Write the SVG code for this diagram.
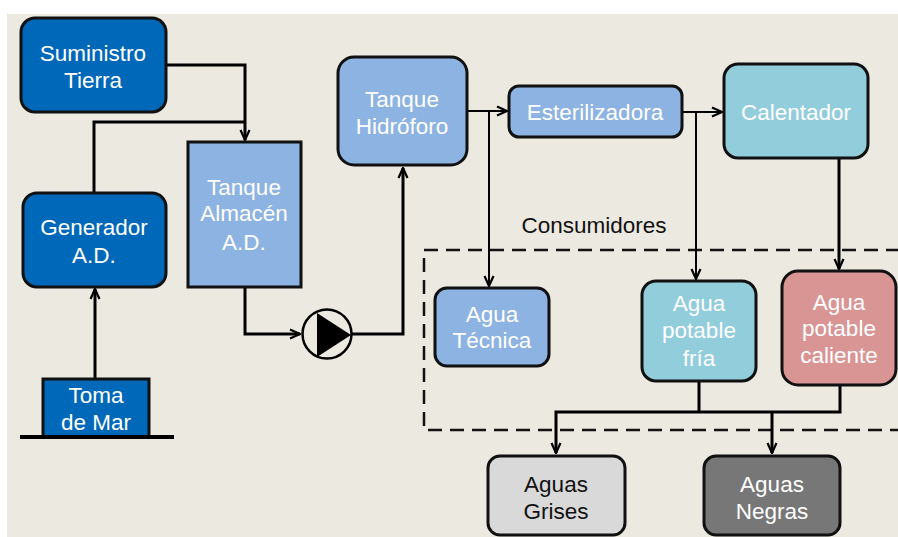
<svg xmlns="http://www.w3.org/2000/svg" width="898" height="537" viewBox="0 0 898 537">
<defs>
<marker id="arr2" viewBox="0 0 12 12" refX="11" refY="6" markerWidth="12" markerHeight="12" orient="auto" markerUnits="userSpaceOnUse">
<path d="M1,1.5 L11,6 L1,10.5" fill="none" stroke="#000" stroke-width="2.2"/>
</marker>
</defs>
<style>
.box{stroke:#111;stroke-width:3}
.t{font-family:"Liberation Sans",Arial,sans-serif;font-size:22.5px;text-anchor:middle;fill:#fff}
.k{fill:#111}
.c{fill:none;stroke:#000;stroke-width:3}
.cn{fill:none;stroke:#000;stroke-width:2}
.dark{fill:#0068B8}
.light{fill:#8DB3E2}
</style>
<rect x="0" y="0" width="898" height="537" fill="#fff"/>
<rect x="7" y="14" width="891" height="523" fill="#ECE9E0"/>

<g id="consumidores">
<rect x="424" y="250" width="480" height="180" fill="none" stroke="#111" stroke-width="2.5" stroke-dasharray="14,8"/>
<text class="t k" x="594" y="233">Consumidores</text>
</g>

<g id="connectors">
<polyline class="c" points="166,65 245,65 245,140" marker-end="url(#arr2)"/>
<polyline class="c" points="94,193 94,122 245,122"/>
<line class="c" x1="95" y1="379" x2="95" y2="289" marker-end="url(#arr2)"/>
<polyline class="c" points="245,287 245,334 300,334" marker-end="url(#arr2)"/>
<polyline class="c" points="352,334 403,334 403,168" marker-end="url(#arr2)"/>
<line class="cn" x1="467" y1="111" x2="507" y2="111" marker-end="url(#arr2)"/>
<line class="cn" x1="489" y1="111" x2="489" y2="286" marker-end="url(#arr2)"/>
<line class="cn" x1="682" y1="112" x2="722" y2="112" marker-end="url(#arr2)"/>
<line class="cn" x1="696" y1="112" x2="696" y2="279" marker-end="url(#arr2)"/>
<line class="c" x1="839" y1="158" x2="839" y2="269" marker-end="url(#arr2)"/>
<polyline class="c" points="699,381 699,412"/>
<polyline class="c" points="840,385 840,412 556,412 556,453" marker-end="url(#arr2)"/>
<line class="c" x1="772" y1="412" x2="772" y2="453" marker-end="url(#arr2)"/>
</g>

<g id="suministro">
<rect class="box dark" x="21" y="18" width="145" height="94" rx="14"/>
<text class="t" x="93" y="61">Suministro</text>
<text class="t" x="93" y="88">Tierra</text>
</g>

<g id="generador">
<rect class="box dark" x="23" y="193" width="143" height="94" rx="14"/>
<text class="t" x="94" y="235">Generador</text>
<text class="t" x="94" y="263">A.D.</text>
</g>

<g id="toma">
<rect class="box dark" x="43" y="379" width="106" height="58"/>
<line x1="20" y1="437" x2="174" y2="437" stroke="#000" stroke-width="4"/>
<text class="t" x="96" y="403">Toma</text>
<text class="t" x="96" y="430">de Mar</text>
</g>

<g id="almacen">
<rect class="box light" x="188" y="142" width="113" height="145"/>
<text class="t" x="244" y="195">Tanque</text>
<text class="t" x="244" y="221">Almacén</text>
<text class="t" x="244" y="250">A.D.</text>
</g>

<g id="bomba">
<circle cx="327" cy="334" r="24.5" fill="none" stroke="#000" stroke-width="2.5"/>
<polygon points="317,313 351,335 317,357" fill="#000"/>
</g>

<g id="hidroforo">
<rect class="box light" x="338" y="57" width="129" height="108" rx="16"/>
<text class="t" x="402" y="107">Tanque</text>
<text class="t" x="402" y="134">Hidróforo</text>
</g>

<g id="esterilizadora">
<rect class="box light" x="509" y="86" width="173" height="51" rx="10"/>
<text class="t" x="595" y="120">Esterilizadora</text>
</g>

<g id="calentador">
<rect class="box" x="724" y="64" width="144" height="94" rx="14" fill="#92CDDC"/>
<text class="t" x="796" y="120">Calentador</text>
</g>

<g id="tecnica">
<rect class="box light" x="435" y="288" width="114" height="78" rx="12"/>
<text class="t" x="492" y="322">Agua</text>
<text class="t" x="492" y="348">Técnica</text>
</g>

<g id="fria">
<rect class="box" x="642" y="281" width="114" height="100" rx="14" fill="#92CDDC"/>
<text class="t" x="699" y="311">Agua</text>
<text class="t" x="699" y="338">potable</text>
<text class="t" x="699" y="366">fría</text>
</g>

<g id="caliente">
<rect class="box" x="782" y="271" width="114" height="114" rx="16" fill="#D99594"/>
<text class="t" x="839" y="310">Agua</text>
<text class="t" x="839" y="336">potable</text>
<text class="t" x="839" y="363">caliente</text>
</g>

<g id="grises">
<rect class="box" x="488" y="456" width="137" height="79" rx="12" fill="#D9D9D9"/>
<text class="t k" x="556" y="492">Aguas</text>
<text class="t k" x="556" y="519">Grises</text>
</g>

<g id="negras">
<rect class="box" x="704" y="456" width="136" height="79" rx="12" fill="#777777"/>
<text class="t" x="772" y="492">Aguas</text>
<text class="t" x="772" y="519">Negras</text>
</g>
</svg>
